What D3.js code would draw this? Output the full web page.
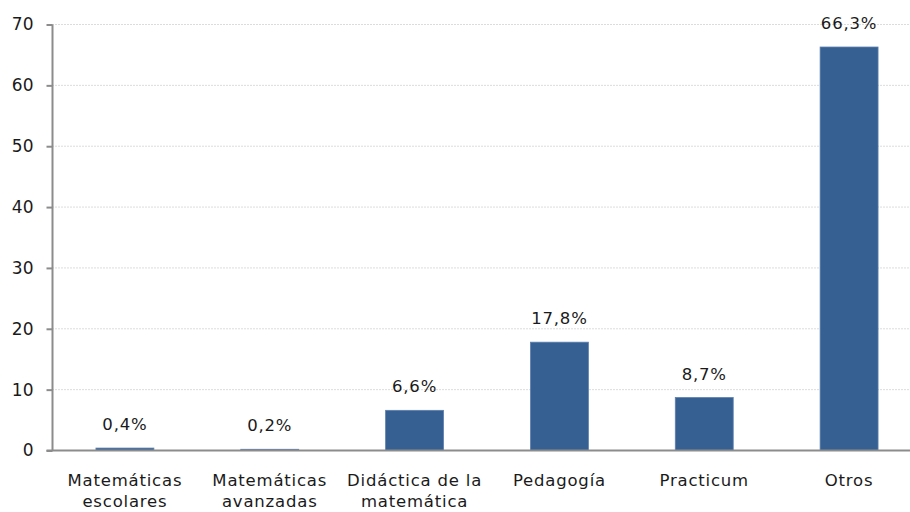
<!DOCTYPE html>
<html>
<head>
<meta charset="utf-8">
<script src="https://cdn.jsdelivr.net/npm/d3@7"></script>
<style>
  body { margin: 0; background: #fff; }
  svg { display: block; }
</style>
</head>
<body>
<div id="chart"></div>
<script>
// Categories (line breaks as in the original axis labels)
const categories = [
  ["Matemáticas", "escolares"],
  ["Matemáticas", "avanzadas"],
  ["Didáctica de la", "matemática"],
  ["Pedagogía"],
  ["Practicum"],
  ["Otros"]
];
const values = [0.4, 0.2, 6.6, 17.8, 8.7, 66.3];
const yTicks = [0, 10, 20, 30, 40, 50, 60, 70];

const width = 910, height = 512;
const margin = {top: 24.5, right: -11.5, bottom: 61.5, left: 52.5};
const font = "'DejaVu Sans', sans-serif";

const svg = d3.select("#chart").append("svg")
  .attr("width", width)
  .attr("height", height)
  .attr("font-family", font)
  .attr("fill", "#1a1a1a");

const x = d3.scaleBand()
  .domain(d3.range(categories.length))
  .range([margin.left, width - margin.right])
  .paddingInner(0.6)
  .paddingOuter(0.3);

const y = d3.scaleLinear()
  .domain([0, 70])
  .range([height - margin.bottom, margin.top]);

// gridlines
svg.append("g")
  .selectAll("line")
  .data(yTicks.filter(d => d > 0))
  .join("line")
  .attr("x1", margin.left)
  .attr("x2", width)
  .attr("y1", d => y(d))
  .attr("y2", d => y(d))
  .attr("stroke", "#b8b8b8")
  .attr("stroke-width", 1)
  .attr("stroke-dasharray", "1,2");

// bars
svg.append("g")
  .selectAll("rect")
  .data(values)
  .join("rect")
  .attr("x", (d, i) => x(i))
  .attr("width", x.bandwidth())
  .attr("y", d => y(d))
  .attr("height", d => y(0) - y(d))
  .attr("fill", "#376092")
  .attr("stroke", "#5b7fae")
  .attr("stroke-width", 0.8);

// value labels
svg.append("g")
  .selectAll("text")
  .data(values)
  .join("text")
  .attr("x", (d, i) => x(i) + x.bandwidth() / 2)
  .attr("y", d => y(d) - 18)
  .attr("text-anchor", "middle")
  .attr("font-size", 16.5)
  .attr("letter-spacing", 0.8)
  .text(d => d3.format(".1f")(d).replace(".", ",") + "%");

// y axis
const yAxis = svg.append("g")
  .attr("transform", `translate(${margin.left},0)`)
  .call(d3.axisLeft(y).tickValues(yTicks).tickSize(6).tickPadding(13));
yAxis.select(".domain").attr("stroke", "#8c8c8c").attr("stroke-width", 2)
  .attr("d", `M0,${y(70)}V${y(0)}`);
yAxis.selectAll(".tick line").attr("stroke", "#8c8c8c").attr("stroke-width", 2);
yAxis.selectAll(".tick text")
  .attr("font-family", font)
  .attr("font-size", 17)
  .attr("fill", "#1a1a1a");

// x axis line
svg.append("line")
  .attr("x1", margin.left - 6)
  .attr("x2", width)
  .attr("y1", y(0))
  .attr("y2", y(0))
  .attr("stroke", "#8c8c8c")
  .attr("stroke-width", 2);

// category labels
const cat = svg.append("g")
  .selectAll("text")
  .data(categories)
  .join("text")
  .attr("x", (d, i) => x(i) + x.bandwidth() / 2)
  .attr("y", y(0) + 35)
  .attr("text-anchor", "middle")
  .attr("font-size", 16.5)
  .attr("letter-spacing", 0.8);
cat.selectAll("tspan")
  .data(d => d)
  .join("tspan")
  .attr("x", function() { return this.parentNode.getAttribute("x"); })
  .attr("dy", (d, i) => i === 0 ? 0 : 21)
  .text(d => d);
</script>
</body>
</html>
